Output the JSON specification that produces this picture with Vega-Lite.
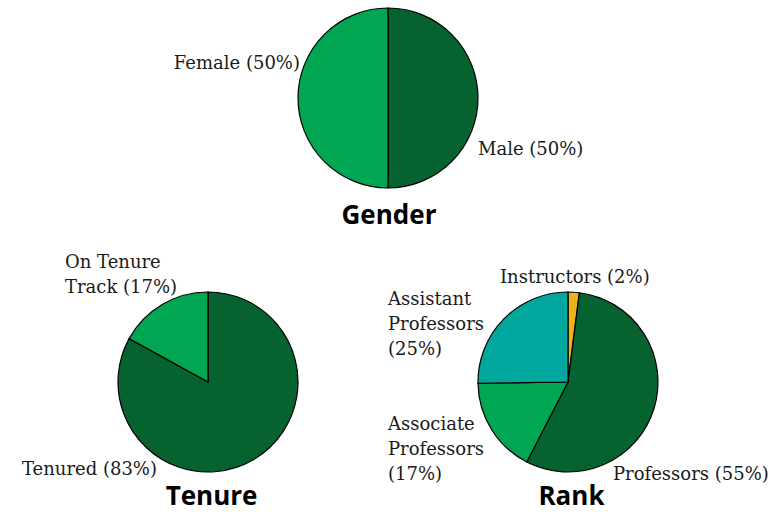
{
  "$schema": "https://vega.github.io/schema/vega-lite/v6.json",
  "padding": {"left": 22, "top": 0, "right": 3, "bottom": 2},
  "background": "white",
  "bounds": "flush",
  "spacing": 96,
  "config": {
    "view": {"stroke": null},
    "text": {"font": "DejaVu Serif", "fontSize": 18, "color": "#1a1a1a"}
  },
  "datasets": {
    "pies": [
      {"chart": "Gender", "category": "Male", "label": "Male (50%)", "value": 50, "order": 1},
      {"chart": "Gender", "category": "Female", "label": "Female (50%)", "value": 50, "order": 2},
      {"chart": "Tenure", "category": "Tenured", "label": "Tenured (83%)", "value": 83, "order": 1},
      {"chart": "Tenure", "category": "On Tenure Track", "label": "On Tenure\nTrack (17%)", "value": 17, "order": 2},
      {"chart": "Rank", "category": "Instructors", "label": "Instructors (2%)", "value": 2, "order": 1},
      {"chart": "Rank", "category": "Professors", "label": "Professors (55%)", "value": 55, "order": 2},
      {"chart": "Rank", "category": "Associate Professors", "label": "Associate\nProfessors\n(17%)", "value": 17, "order": 3},
      {"chart": "Rank", "category": "Assistant Professors", "label": "Assistant\nProfessors\n(25%)", "value": 25, "order": 4}
    ]
  },
  "vconcat": [
    {
      "width": 720,
      "height": 196,
      "data": {"name": "pies"},
      "transform": [
        {"filter": "datum.chart == 'Gender'"},
        {"stack": "value", "groupby": ["chart"], "sort": [{"field": "order", "order": "ascending"}], "offset": "normalize", "as": ["t0", "t1"]}
      ],
      "encoding": {
        "x": {"field": "chart", "type": "nominal", "scale": {"type": "point", "domain": ["Tenure", "Gender", "Rank"], "padding": 1}, "axis": null}
      },
      "layer": [
        {
          "mark": {"type": "arc", "radius": 90, "stroke": "#000000", "strokeWidth": 1.2},
          "encoding": {
            "theta": {"field": "t0", "type": "quantitative", "stack": null, "scale": {"domain": [0, 1], "range": [0, 6.283185307179586]}},
            "theta2": {"field": "t1"},
            "color": {"field": "category", "type": "nominal", "legend": null,
              "scale": {"domain": ["Male", "Female", "Tenured", "On Tenure Track", "Instructors", "Professors", "Associate Professors", "Assistant Professors"],
                        "range": ["#066330", "#00a651", "#066330", "#00a651", "#f0b21a", "#066330", "#00a651", "#00a79d"]}}
          }
        },
        {
          "transform": [{"filter": "datum.category == 'Female'"}],
          "mark": {"type": "text", "align": "right", "baseline": "alphabetic", "dx": -88, "dy": -29},
          "encoding": {"text": {"field": "label", "type": "nominal"}}
        },
        {
          "transform": [{"filter": "datum.category == 'Male'"}],
          "mark": {"type": "text", "align": "left", "baseline": "alphabetic", "dx": 90, "dy": 57},
          "encoding": {"text": {"field": "label", "type": "nominal"}}
        },
        {
          "transform": [{"aggregate": [{"op": "count", "as": "n"}], "groupby": ["chart"]}],
          "mark": {"type": "text", "font": "Open Sans", "fontWeight": "bold", "fontSize": 26, "color": "#000000", "align": "center", "baseline": "alphabetic", "dx": 1, "dy": 126},
          "encoding": {"text": {"field": "chart", "type": "nominal"}}
        }
      ]
    },
    {
      "width": 720,
      "height": 180,
      "data": {"name": "pies"},
      "transform": [
        {"filter": "datum.chart != 'Gender'"},
        {"stack": "value", "groupby": ["chart"], "sort": [{"field": "order", "order": "ascending"}], "offset": "normalize", "as": ["t0", "t1"]}
      ],
      "encoding": {
        "x": {"field": "chart", "type": "nominal", "scale": {"type": "point", "domain": ["Tenure", "Gender", "Rank"], "padding": 1}, "axis": null}
      },
      "layer": [
        {
          "mark": {"type": "arc", "radius": 90, "stroke": "#000000", "strokeWidth": 1.2},
          "encoding": {
            "theta": {"field": "t0", "type": "quantitative", "stack": null, "scale": {"domain": [0, 1], "range": [0, 6.283185307179586]}},
            "theta2": {"field": "t1"},
            "color": {"field": "category", "type": "nominal", "legend": null,
              "scale": {"domain": ["Male", "Female", "Tenured", "On Tenure Track", "Instructors", "Professors", "Associate Professors", "Assistant Professors"],
                        "range": ["#066330", "#00a651", "#066330", "#00a651", "#f0b21a", "#066330", "#00a651", "#00a79d"]}}
          }
        },
        {
          "transform": [{"filter": "datum.category == 'On Tenure Track'"}],
          "mark": {"type": "text", "align": "left", "baseline": "alphabetic", "lineBreak": "\n", "lineHeight": 25, "dx": -143, "dy": -114},
          "encoding": {"text": {"field": "label", "type": "nominal"}}
        },
        {
          "transform": [{"filter": "datum.category == 'Tenured'"}],
          "mark": {"type": "text", "align": "left", "baseline": "alphabetic", "dx": -186, "dy": 93},
          "encoding": {"text": {"field": "label", "type": "nominal"}}
        },
        {
          "transform": [{"filter": "datum.category == 'Instructors'"}],
          "mark": {"type": "text", "align": "left", "baseline": "alphabetic", "dx": -68, "dy": -99},
          "encoding": {"text": {"field": "label", "type": "nominal"}}
        },
        {
          "transform": [{"filter": "datum.category == 'Assistant Professors'"}],
          "mark": {"type": "text", "align": "left", "baseline": "alphabetic", "lineBreak": "\n", "lineHeight": 25, "dx": -180, "dy": -77},
          "encoding": {"text": {"field": "label", "type": "nominal"}}
        },
        {
          "transform": [{"filter": "datum.category == 'Associate Professors'"}],
          "mark": {"type": "text", "align": "left", "baseline": "alphabetic", "lineBreak": "\n", "lineHeight": 25, "dx": -180, "dy": 48},
          "encoding": {"text": {"field": "label", "type": "nominal"}}
        },
        {
          "transform": [{"filter": "datum.category == 'Professors'"}],
          "mark": {"type": "text", "align": "left", "baseline": "alphabetic", "dx": 45, "dy": 98},
          "encoding": {"text": {"field": "label", "type": "nominal"}}
        },
        {
          "transform": [{"aggregate": [{"op": "count", "as": "n"}], "groupby": ["chart"]}],
          "mark": {"type": "text", "font": "Open Sans", "fontWeight": "bold", "fontSize": 26, "color": "#000000", "align": "center", "baseline": "alphabetic", "dx": 3.5, "dy": 123},
          "encoding": {"text": {"field": "chart", "type": "nominal"}}
        }
      ]
    }
  ]
}
